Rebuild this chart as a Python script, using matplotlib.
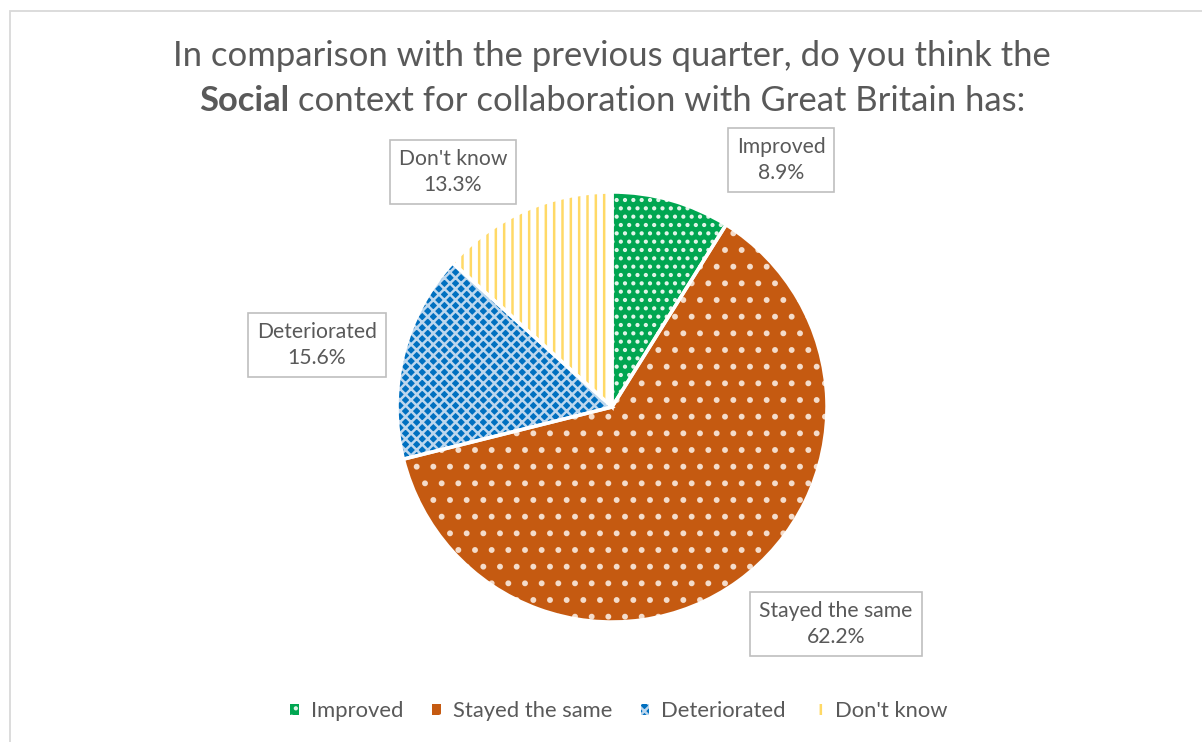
import matplotlib
matplotlib.use("Agg")
import matplotlib.pyplot as plt
from matplotlib.patches import Patch, Rectangle

plt.rcParams['font.family'] = ['Lato', 'DejaVu Sans']
plt.rcParams['hatch.linewidth'] = 1.8

# Data
categories = ["Improved", "Stayed the same", "Deteriorated", "Don't know"]
shares = [8.9, 62.2, 15.6, 13.3]

face_colors = ["#00A651", "#C55A11", "#0070C0", "white"]
hatch_colors = ["#E2F5E9", "#F4DCCB", "#BDD7EE", "#FFD966"]
hatches = ["..", ".", "xxx", "||"]

text_grey = "#595959"
W, H = 1202, 742

fig = plt.figure(figsize=(W / 100, H / 100), dpi=100)
ax = fig.add_axes([0, 0, 1, 1])
ax.set_xlim(0, W)
ax.set_ylim(0, H)
ax.set_aspect("equal")
ax.axis("off")

# chart frame (runs off the right / bottom edge)
ax.add_patch(Rectangle((10, -20), W + 20, H - 11 + 20, fill=False,
                       edgecolor="#D9D9D9", linewidth=1.3))

cx, cy, r = 612, H - 407, 215

# hatched fill layer
wedges, _ = ax.pie(shares, center=(cx, cy), radius=r, startangle=90,
                   counterclock=False, frame=True)
for w, fc, hc, h in zip(wedges, face_colors, hatch_colors, hatches):
    w.set_facecolor(fc)
    w.set_edgecolor(hc)
    w.set_hatch(h)
    w.set_linewidth(0)

# white separators on top
sep, _ = ax.pie(shares, center=(cx, cy), radius=r, startangle=90,
                counterclock=False, frame=True,
                wedgeprops=dict(fill=False, edgecolor="white", linewidth=2.5))
ax.set_xlim(0, W)
ax.set_ylim(0, H)
ax.axis("off")

# data labels
label_pos = [(781, 160), (836, 624), (317, 345), (453, 172)]
for cat, val, (x, y) in zip(categories, shares, label_pos):
    ax.text(x, H - y, f"{cat}\n{val:.1f}%", ha="center", va="center",
            fontsize=15.2, color=text_grey, linespacing=1.4,
            bbox=dict(boxstyle="square,pad=0.42", facecolor="white",
                      edgecolor="#BFBFBF", linewidth=1.2))

# title
ax.text(cx, H - 56, "In comparison with the previous quarter, do you think the",
        ha="center", va="center", fontsize=24.9, color=text_grey)
fig.canvas.draw()
rend = fig.canvas.get_renderer()
t1 = ax.text(0, H - 101, "Social", ha="left", va="center", fontsize=24.9,
             color=text_grey, fontweight="bold")
t2 = ax.text(0, H - 101, " context for collaboration with Great Britain has:",
             ha="left", va="center", fontsize=24.9, color=text_grey)
w1 = t1.get_window_extent(rend).width
w2 = t2.get_window_extent(rend).width
x0 = cx - (w1 + w2) / 2
t1.set_x(x0)
t2.set_x(x0 + w1)

# legend
handles = [Patch(facecolor=fc, edgecolor=hc, hatch=h, linewidth=0)
           for fc, hc, h in zip(face_colors, hatch_colors, hatches)]
leg = ax.legend(handles, categories, loc="center", bbox_to_anchor=(619 / W, 1 - 711 / H),
                ncol=4, frameon=False, fontsize=15.8, handlelength=0.4,
                handleheight=0.4, handletextpad=0.55, columnspacing=1.3)
for t in leg.get_texts():
    t.set_color(text_grey)

fig.savefig("out.png", dpi=100)
